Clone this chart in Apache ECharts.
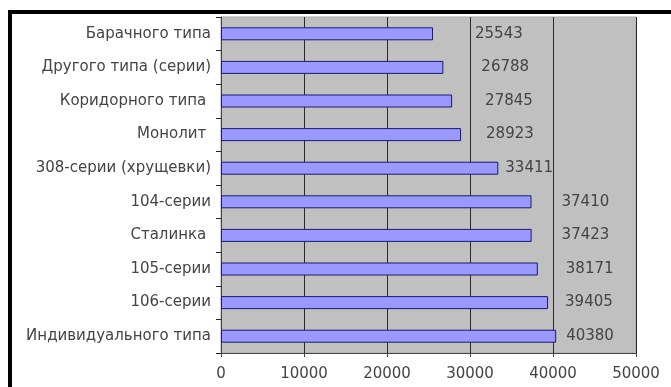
<!DOCTYPE html>
<html>
<head>
<meta charset="utf-8">
<script src="https://cdn.jsdelivr.net/npm/echarts@6/dist/echarts.min.js"></script>
<style>
  html, body { margin: 0; padding: 0; background: #fff; }
  #container { width: 671px; height: 387px; }
</style>
</head>
<body>
<div id="container"></div>
<script>
var categories = ['Барачного типа', 'Другого типа (серии)', 'Коридорного типа ', 'Монолит ', '308-серии (хрущевки)',
    '104-серии', 'Сталинка ', '105-серии', '106-серии', 'Индивидуального типа'];
var values = [25543, 26788, 27845, 28923, 33411, 37410, 37423, 38171, 39405, 40380];
var xTicks = [0, 10000, 20000, 30000, 40000, 50000];

// label offsets (px) so labels sit where the original has them
var labelShift = [40, 36, 31, 23, 5, 28, 28, 26, 15, 8];

var dom = document.getElementById('container');
var myChart = echarts.init(dom);
var textColor = '#444';
var fontFamily = 'DejaVu Sans';

var barData = [];
for (var i = 0; i < values.length; i++) {
    barData.push({
        value: values[i],
        label: {offset: [labelShift[i], 0]}
    });
}

var option = {
    animation: false,
    backgroundColor: '#fff',
    textStyle: {fontFamily: fontFamily},
    graphic: [
        {type: 'rect', shape: {x: 8, y: 10, width: 663, height: 4}, style: {fill: '#000'}},
        {type: 'rect', shape: {x: 8, y: 10, width: 4, height: 377}, style: {fill: '#000'}}
    ],
    grid: {
        left: 221,
        top: 17,
        right: 35,
        bottom: 34,
        show: true,
        backgroundColor: '#c0c0c0',
        borderColor: '#a8a8a8',
        borderWidth: 1
    },
    xAxis: {
        type: 'value',
        min: xTicks[0],
        max: xTicks[xTicks.length - 1],
        interval: xTicks[1] - xTicks[0],
        axisLine: {show: true, lineStyle: {color: '#444', width: 1}},
        axisTick: {show: true, length: 4, lineStyle: {color: '#444'}},
        splitLine: {show: true, lineStyle: {color: '#2a2a2a', width: 1}},
        axisLabel: {
            color: textColor, fontSize: 15, margin: 14, fontFamily: fontFamily,
            formatter: function (v) { return String(v); }
        }
    },
    yAxis: {
        type: 'category',
        data: categories,
        inverse: true,
        axisLine: {show: true, lineStyle: {color: '#444', width: 1}},
        axisTick: {show: true, length: 5, lineStyle: {color: '#222'}},
        axisLabel: {color: textColor, fontSize: 15, margin: 10, fontFamily: fontFamily}
    },
    series: [{
        type: 'bar',
        data: barData,
        barWidth: 13,
        itemStyle: {color: '#9999ff', borderColor: '#1a1a6e', borderWidth: 1},
        label: {
            show: true,
            position: 'right',
            distance: 2,
            color: textColor,
            fontSize: 15,
            fontFamily: fontFamily
        }
    }]
};
myChart.setOption(option, true);
</script>
</body>
</html>
